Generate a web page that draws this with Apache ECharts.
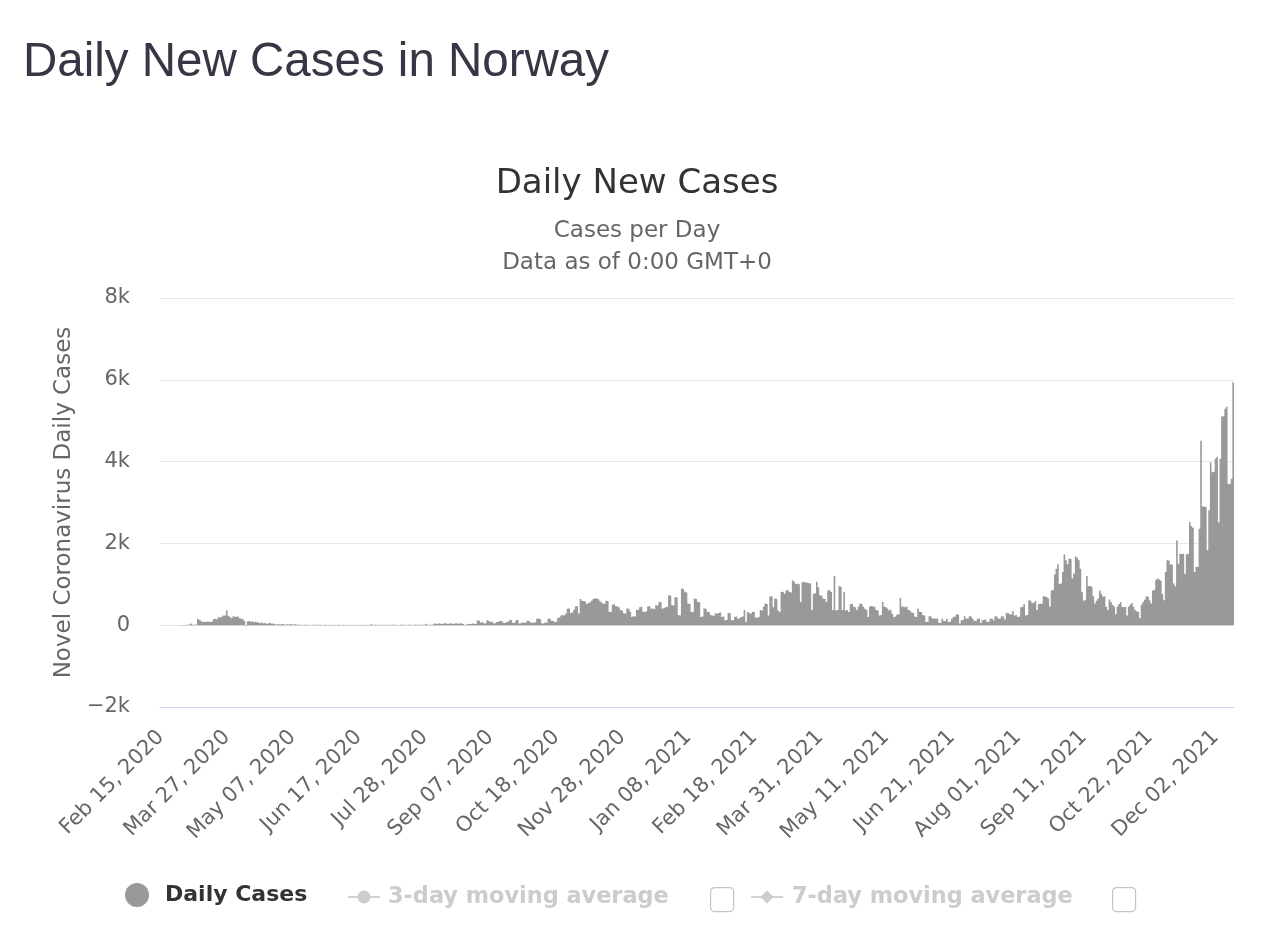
<!DOCTYPE html>
<html><head><meta charset="utf-8">
<script src="https://cdn.jsdelivr.net/npm/echarts@6/dist/echarts.min.js"></script>
<style>html,body{margin:0;padding:0;background:#fff}#chart{width:1284px;height:928px}</style>
</head><body><div id="chart"></div>
<script>
// ---- data ----
const monthNames = ['Jan','Feb','Mar','Apr','May','Jun','Jul','Aug','Sep','Oct','Nov','Dec'];
const firstDay = [2020, 1, 15]; // Feb 15, 2020
const seriesNames = ['Daily Cases', '3-day moving average', '7-day moving average'];

const spring2020 = [0,0,0,0,0,0,0,0,0,0,0,
  1,0,3,6,4,8,12,15,40,12,14,18,
  150,130,110,80,85,80,90,85,80,90,150,155,145,200,190,210,235,240,358,230,200,170,210,215,200,210,170,160,150,100,
  -20,90,
  100,80,95,70,85,75,60,
  50,65,40,55,30,45,60,35,40,
  25,20,30,15,25,30,20,15,25,20,30,15,20,25];
const summer2020 = [12,8,10,6,14,9,11,7,5,10,13,8,6,9,12,4,7,10,8,5,11,6,9,7,3,8,10,5,6,12,4,9,7,5,8,6,10,4,7,9,5,3,8,6,11,7,
  30,
  6,9,12,5,8,10,7,11,4,9,13,6,8,10,12,7,5,9,11,14,8,6,10,12,9,7,15,11,8,13,10,14,12,
  35,
  10,12,9,14,
  35,40,28,45,38,30,42,50,36,33,44,48,30,39,45,35,41,47,32,
  12,9,
  32,38,30,40,35,28];
const autumn2020 = [120,110,60,80,45,40,120,110,80,90,45,50,80,85,105,100,60,55,80,85,120,125,60,55,120,125,40,45,65,60,65,110,100,65,60,
  60,70,160,165,150,45,40,65,60,160,165,110,100,80,85,180,190,240,250,235,285,400,410,300,310,380,460,470,285];
const winter2020 = [640,600,590,580,520,540,560,600,640,650,
  660,640,600,560,530,520,600,590,330,320,
  500,510,470,460,440,370,360,290,280,410,
  400,330,200,220,210,370,380,440,450,330,
  320,340,460,470,400,410,390,490,480,570,
  560,400,420,440,450,730,720,490,480,690,
  680,250,240,900,880,820,800,530,520,330,
  320,650,640,570,560,200,210,410,400,320,
  330,250,240,230,290,280,300,310,200,210,
  120,130,300,290,125,120,200,210,160,170,
  200,210,370];
const spring2021 = [80,320,300,280,330,320,190,180,200,370,
  360,450,530,520,240,700,710,440,650,640,
  360,320,810,820,770,850,860,810,800,1100,
  1060,1010,1020,1000,570,1050,1060,1050,1040,1030,
  1020,370,770,780,1060,930,730,720,650,640,
  570,850,860,810,370,1200,360,370,950,940,
  370,810,360,370,320,510,520,450,440,370,
  460,530,520,450,400,370,200,460,470,460,
  450,370,360,240,250,570,450,440,410,360,
  380,280,200,210,270,260,670,460,450,440,
  460,370,360];
const summer2021 = [310,300,210,200,400,330,320,250,240,80,
  85,220,210,160,170,160,165,60,55,160,
  110,100,160,80,85,160,200,210,270,260,
  40,120,125,220,160,165,220,215,160,110,
  100,160,165,55,120,125,140,80,85,160,
  165,120,220,215,160,165,220,210,140,300,
  290,270,260,350,240,250,200,210,440,450,
  510,240,250,610,600,545,550,590,370,510];
const autumn2021 = [530,520,710,700,690,650,460,850,860,1240,
  1380,1490,1010,1020,1300,1730,1590,1490,1630,1620,
  1140,1260,1680,1650,1590,1380,810,600,620,1200,
  950,960,940,710,530,600,650,850,770,700,
  710,450,370,630,570,500,460,270,460,520,
  570,450,440,450,240,450];
const winter2021 = [500,540,450,370,340,320,170,500,570,620,
  700,700,610,530,850,860,1110,1140,1120,1090,
  760,610,1300,1590,1580,1490,1480,1020,950,2070,
  1500,1750,1740,1745,1260,1730,1750,2520,2420,2380,
  1300,1420,1430,2360,4510,2900,2900,2890,1830,2810,
  3980,3740,3750,4070,4120,2520,4070,5100,5110,5290,
  5340,3450,3460,3580,5940];

const yMin = -2000, yMax = 8000, yInterval = 2000;
const labelEvery = 41; // days between x tick labels

const dailyCases = [].concat(spring2020, summer2020, autumn2020, winter2020, spring2021, summer2021, autumn2021, winter2021);
const categories = dailyCases.map((v, i) => {
  const d = new Date(Date.UTC(firstDay[0], firstDay[1], firstDay[2] + i));
  return monthNames[d.getUTCMonth()] + ' ' + String(d.getUTCDate()).padStart(2, '0') + ', ' + d.getUTCFullYear();
});

const chart = echarts.init(document.getElementById('chart'), null, {renderer: 'canvas'});
const FONT = 'DejaVu Sans';
const legendText = (color, padLeft, size) => ({
  fontFamily: FONT, fontWeight: 'bold', fontSize: size, color: color,
  rich: {t: {fontFamily: FONT, fontWeight: 'bold', fontSize: size, color: color, padding: [0, 0, 0, padLeft]}}
});
const option = {
  animation: false,
  backgroundColor: '#ffffff',
  title: [
    {text: 'Daily New Cases in Norway', left: 23, top: 39, padding: 0,
     textStyle: {fontFamily: 'Liberation Sans', fontSize: 47.5, fontWeight: 'normal', color: '#363645'}},
    {text: 'Daily New Cases', left: 637, top: 167, textAlign: 'center', padding: 0,
     textStyle: {fontFamily: FONT, fontSize: 34, fontWeight: 'normal', color: '#333333'}},
    {text: 'Cases per Day', left: 637, top: 220, textAlign: 'center', padding: 0,
     textStyle: {fontFamily: FONT, fontSize: 23, fontWeight: 'normal', color: '#666666'}},
    {text: 'Data as of 0:00 GMT+0', left: 637, top: 252, textAlign: 'center', padding: 0,
     textStyle: {fontFamily: FONT, fontSize: 23, fontWeight: 'normal', color: '#666666'}}
  ],
  legend: [
    {data: [{name: seriesNames[0], icon: 'circle'}], left: 125, top: 883, padding: 0,
     itemWidth: 24, itemHeight: 24, selectedMode: false,
     formatter: '{t|{name}}', textStyle: legendText('#333333', 11, 22)},
    {data: [seriesNames[1]], left: 347, top: 886, padding: 0, itemWidth: 32, itemHeight: 16,
     inactiveColor: '#cccccc', selected: {'3-day moving average': false},
     formatter: '{t|{name}}', textStyle: legendText('#cccccc', 3, 22.4)},
    {data: [seriesNames[2]], left: 750, top: 886, padding: 0, itemWidth: 32, itemHeight: 16,
     inactiveColor: '#cccccc', selected: {'7-day moving average': false},
     formatter: '{t|{name}}', textStyle: legendText('#cccccc', 4, 22.4)}
  ],
  graphic: [
    {type: 'rect', left: 710, top: 887, shape: {width: 23, height: 24, r: 4},
     style: {fill: '#ffffff', stroke: '#c4c4c4', lineWidth: 1.2}},
    {type: 'rect', left: 1112, top: 887, shape: {width: 23, height: 24, r: 4},
     style: {fill: '#ffffff', stroke: '#c4c4c4', lineWidth: 1.2}}
  ],
  grid: {left: 160, right: 50, top: 298, bottom: 221, containLabel: false},
  xAxis: {
    type: 'category',
    data: categories,
    boundaryGap: true,
    axisLine: {onZero: false, lineStyle: {color: '#ccd6eb', width: 1}},
    axisTick: {show: false},
    splitLine: {show: false},
    axisLabel: {interval: labelEvery - 1, rotate: 45, margin: 27,
      fontFamily: FONT, fontSize: 21, color: '#666666'}
  },
  yAxis: {
    type: 'value',
    min: yMin, max: yMax, interval: yInterval,
    name: 'Novel Coronavirus Daily Cases',
    nameLocation: 'middle', nameGap: 84, nameRotate: 90,
    nameTextStyle: {fontFamily: FONT, fontSize: 23, color: '#666666'},
    axisLine: {show: false}, axisTick: {show: false},
    splitLine: {lineStyle: {color: '#e6e6e6', width: 1}},
    axisLabel: {margin: 30, fontFamily: FONT, fontSize: 21, color: '#666666',
      formatter: v => v === 0 ? '0' : (v < 0 ? '\u2212' : '') + Math.abs(v / 1000) + 'k'}
  },
  series: [
    {name: seriesNames[0], type: 'bar', data: dailyCases, barCategoryGap: '0%',
     large: true, largeThreshold: 100,
     itemStyle: {color: '#999999'}, emphasis: {disabled: true}},
    {name: seriesNames[1], type: 'line', data: [], symbol: 'circle', symbolSize: 10,
     itemStyle: {color: '#999999'}, lineStyle: {color: '#999999', width: 3}},
    {name: seriesNames[2], type: 'line', data: [], symbol: 'diamond', symbolSize: 10,
     itemStyle: {color: '#999999'}, lineStyle: {color: '#999999', width: 3}}
  ]
};
chart.setOption(option);
</script></body></html>
